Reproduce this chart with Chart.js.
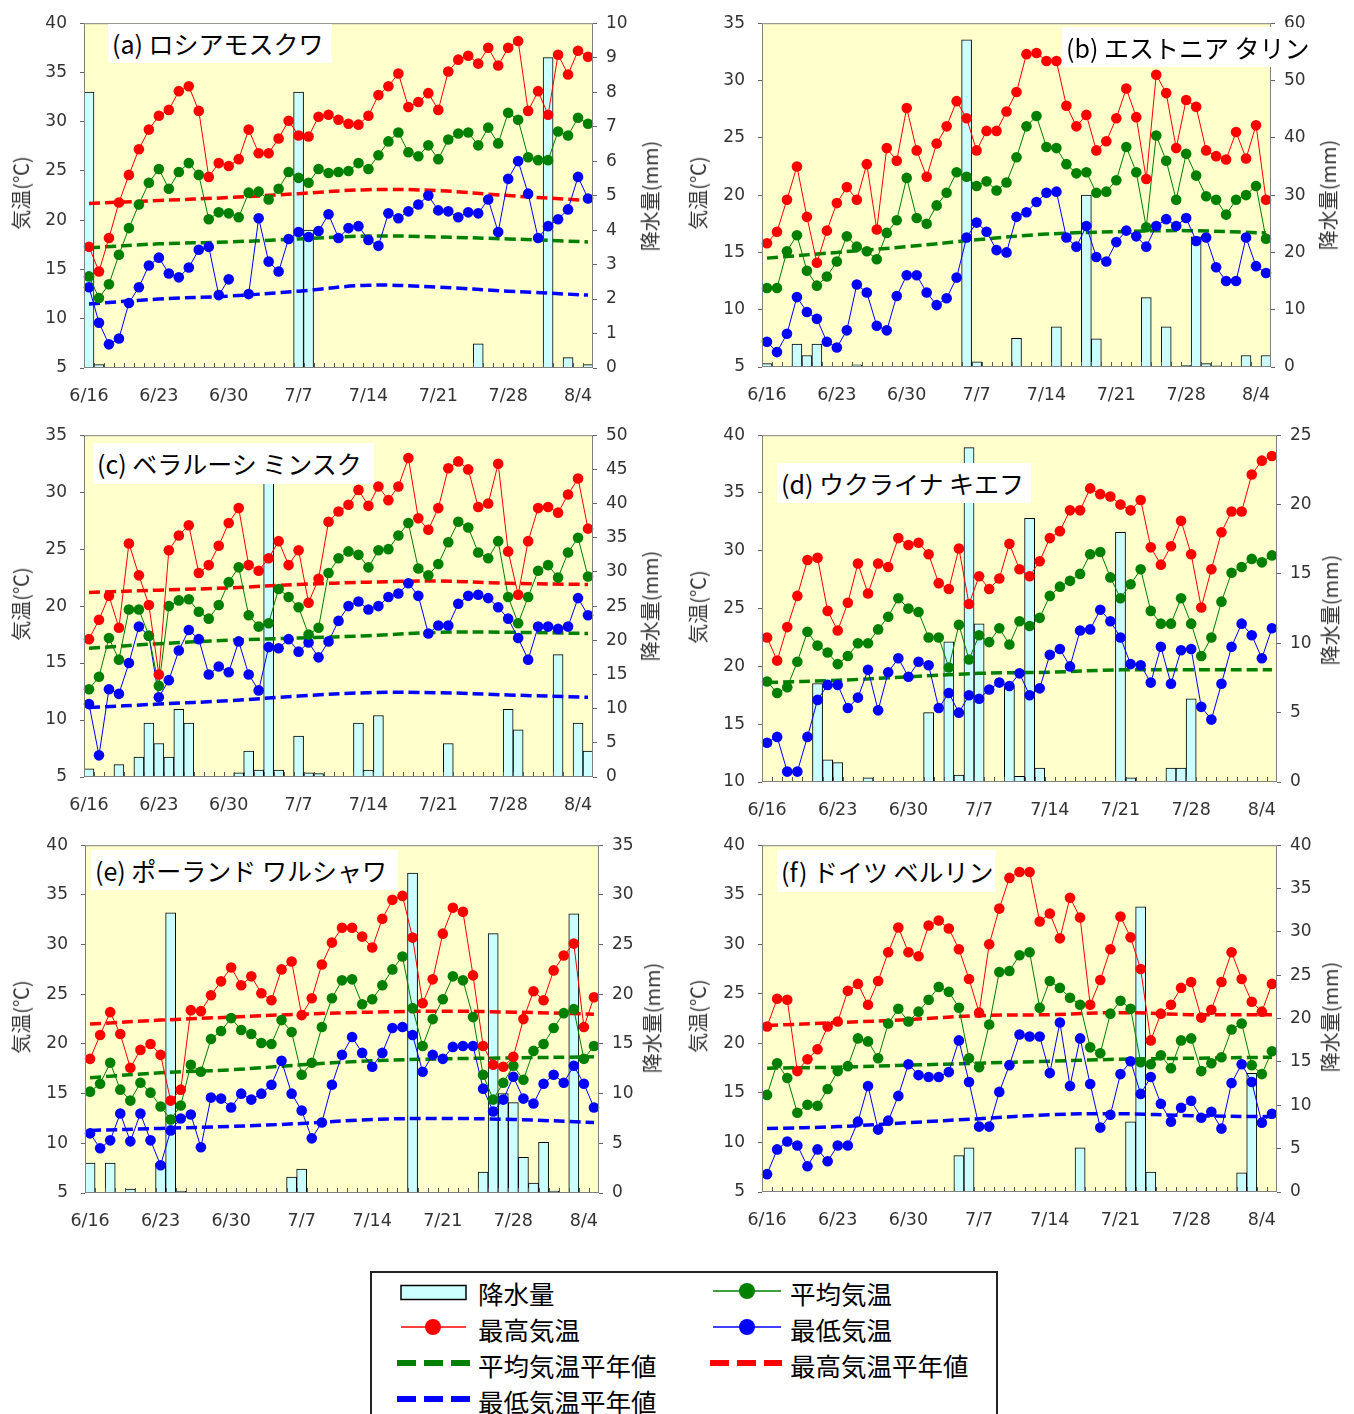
<!DOCTYPE html>
<html>
<head>
<meta charset="utf-8">
<script src="https://cdn.jsdelivr.net/npm/chart.js@4.4.0/dist/chart.umd.min.js"></script>
<style>
html,body{margin:0;padding:0;background:#fff;}
body{position:relative;width:1354px;height:1414px;overflow:hidden;font-family:"Noto Sans CJK JP",sans-serif;}
canvas{position:absolute;}
.ttl{position:absolute;background:#fff;font-size:25px;padding:0 0 0 4px;white-space:pre;color:#000;box-sizing:border-box;}
.ax{position:absolute;font-size:20px;color:#333;white-space:nowrap;transform:translate(-50%,-50%) rotate(-90deg);line-height:24px;}
.lg{position:absolute;font-size:25.5px;line-height:30px;color:#000;white-space:nowrap;}
svg{position:absolute;}
</style>
</head>
<body>
<script>
// ---------- categories & tick labels ----------
const days = ['6/16','6/17','6/18','6/19','6/20','6/21','6/22','6/23','6/24','6/25','6/26','6/27','6/28','6/29','6/30',
  '7/1','7/2','7/3','7/4','7/5','7/6','7/7','7/8','7/9','7/10','7/11','7/12','7/13','7/14','7/15','7/16','7/17','7/18','7/19','7/20',
  '7/21','7/22','7/23','7/24','7/25','7/26','7/27','7/28','7/29','7/30','7/31','8/1','8/2','8/3','8/4','8/5'];
const tickDays = ['6/16','6/23','6/30','7/7','7/14','7/21','7/28','8/4'];
const normIdx = [0,7,14,21,28,35,42,50];

// ---------- (a) Moscow ----------
const aMax = [17.3,14.8,18.2,21.8,24.6,27.2,29.2,30.6,31.2,33.1,33.6,31.1,24.4,25.8,25.5,26.2,29.2,26.8,26.8,28.3,30.1,28.6,28.5,30.5,30.7,30.2,29.8,29.7,30.6,32.7,33.6,34.9,31.5,32.0,32.9,31.2,35.1,36.3,36.7,35.9,37.5,35.7,37.5,38.2,31.1,33.1,30.7,36.8,34.8,37.2,36.6];
const aMean = [14.3,12.1,13.5,16.5,19.2,21.6,23.8,25.2,23.2,24.9,25.8,24.6,20.1,20.8,20.7,20.3,22.8,22.9,22.1,23.2,24.9,24.3,23.8,25.2,24.8,24.9,25.0,25.8,25.2,26.6,28.0,28.9,26.9,26.5,27.6,26.2,28.2,28.8,28.9,27.6,29.4,27.8,30.9,30.2,26.4,26.1,26.1,29.0,28.6,30.4,29.8];
const aMin = [13.2,9.6,7.4,8.0,11.6,13.2,15.4,16.2,14.6,14.2,15.2,17.0,17.3,12.4,14.0,null,12.5,20.2,15.8,14.8,18.1,18.8,18.3,18.9,20.6,18.2,19.2,19.4,18.0,17.4,20.7,20.2,20.9,21.6,22.5,21.0,20.9,20.3,20.8,20.7,22.1,18.8,24.2,26.0,22.7,18.2,19.4,20.1,21.1,24.4,22.2];
const aRain = [8.0,0.1,0,0,0,0,0,0,0,0, 0,0,0,0,0,0,0,0,0,0, 0,8.0,4.0,0,0,0,0,0,0,0, 0,0,0,0,0,0,0,0,0,0.7, 0,0,0,0,0,0,9.0,0,0.3,0, 0.1];
const aNormMax = [21.7,22.0,22.3,22.7,23.1,23.0,22.5,22.0];
const aNormMean = [17.2,17.6,17.8,18.1,18.4,18.3,18.1,17.8];
const aNormMin = [11.5,12.0,12.3,12.8,13.4,13.2,12.8,12.4];

// ---------- (b) Tallinn ----------
const bMax = [15.8,16.8,19.6,22.5,18.1,14.1,16.9,19.3,20.7,19.6,22.7,17.0,24.1,23.0,27.6,23.9,21.6,24.5,26.0,28.2,26.7,23.9,25.6,25.6,27.3,29.0,32.3,32.4,31.7,31.7,27.8,26.0,27.0,23.9,24.7,26.7,29.3,26.8,21.4,30.5,28.9,24.1,28.3,27.7,23.9,23.4,23.1,25.5,23.2,26.1,19.6];
const bMean = [11.9,11.9,15.1,16.5,13.4,12.1,12.9,14.2,16.4,15.5,15.1,14.4,16.7,17.8,21.5,18.0,17.5,19.1,20.2,22.0,21.6,20.8,21.2,20.4,21.1,23.3,26.0,26.9,24.2,24.1,22.7,21.9,22.0,20.2,20.3,21.3,24.2,22.0,17.2,25.2,23.0,19.6,23.6,21.7,19.9,19.6,18.3,19.6,20.0,20.8,16.2];
const bMin = [7.2,6.3,7.9,11.1,9.8,9.2,7.2,6.7,8.2,12.2,11.5,8.6,8.2,11.2,13.0,13.0,11.5,10.4,11.0,12.8,16.3,17.6,16.8,15.2,15.0,18.1,18.5,19.4,20.2,20.3,16.3,15.5,17.3,14.6,14.2,15.9,16.9,16.4,15.5,17.3,17.9,17.3,18.0,16.0,16.3,13.7,12.5,12.5,16.3,13.8,13.2];
const bRain = [0.6,0,0,4.0,2.0,4.0,0,0,0,0.4, 0,0,0,0,0,0,0,0,0,0, 57.1,0.9,0,0,0,5.0,0,0,0,7.0, 0,0,30.0,4.9,0,0,0,0,12.1,0, 7.0,0,0.3,22.7,0.6,0.2,0,0,2.0,0, 2.0];
const bNormMean = [14.5,15.0,15.5,16.1,16.6,16.8,16.9,16.7];

// ---------- (c) Minsk ----------
const cMax = [17.1,18.8,20.9,18.1,25.5,22.7,20.1,14.0,24.9,26.2,27.1,22.9,23.6,25.3,27.3,28.6,23.6,23.1,24.2,25.7,23.6,24.9,20.3,22.4,27.4,28.3,28.9,30.2,28.8,30.5,29.3,30.5,33.0,27.7,26.7,28.6,32.1,32.7,32.0,28.7,29.0,32.5,24.8,21.0,25.7,28.6,28.7,28.2,29.8,31.2,26.8];
const cMean = [12.7,13.8,17.2,15.3,19.7,19.7,17.4,13.0,20.0,20.5,20.6,19.5,18.9,20.1,22.1,23.4,19.2,18.2,18.5,21.5,20.8,19.9,17.5,18.1,22.9,24.2,24.8,24.5,23.4,24.9,25.0,26.2,27.3,23.3,22.7,23.7,25.6,27.4,26.9,24.7,24.2,25.7,20.8,18.5,20.8,23.1,23.6,22.5,24.7,26.0,22.6];
const cMin = [11.4,6.9,12.7,12.3,15.0,18.2,17.4,12.0,13.5,16.1,17.9,17.1,14.0,14.7,14.2,16.9,14.0,12.6,16.4,16.3,17.1,16.0,16.8,15.5,16.9,18.7,20.0,20.4,19.7,20.0,20.8,21.1,22.0,20.9,17.6,18.3,18.3,20.2,20.9,21.0,20.7,19.9,18.9,17.2,15.3,18.2,18.2,18.0,18.2,20.7,19.2];
const cRain = [1.2,0,0,1.8,0.1,2.9,7.9,4.9,2.9,9.9, 7.9,0,0,0,0,0.6,3.8,1.0,47,1.0, 0,6.0,0.6,0.5,0,0,0,7.9,1.0,9.0, 0,0,0,0,0,0,4.9,0,0,0, 0,0,9.9,6.9,0,0.1,0,17.9,0,7.9, 3.8];
const cNormMax = [21.2,21.4,21.6,21.9,22.1,22.2,22.0,21.9];
const cNormMean = [16.3,16.7,17.0,17.2,17.4,17.7,17.7,17.6];
const cNormMin = [11.1,11.4,11.7,12.1,12.4,12.4,12.2,12.0];

// ---------- (d) Kyiv ----------
const dMax = [22.5,20.5,23.4,26.1,29.2,29.4,24.8,23.1,25.5,28.9,26.3,28.9,28.6,31.1,30.5,30.7,29.7,27.2,26.7,30.2,25.4,27.8,26.7,27.6,30.6,28.4,27.8,29.1,31.1,31.7,33.5,33.5,35.4,34.9,34.7,34.0,33.5,34.4,30.3,28.8,30.4,32.6,29.7,25.1,28.4,31.6,33.4,33.4,36.6,37.8,38.2];
const dMean = [18.7,17.7,18.2,20.4,23.0,21.8,21.2,20.2,20.9,22.0,22.0,23.2,24.3,25.9,25.0,24.7,22.5,22.5,19.9,23.6,20.6,22.7,22.1,23.3,21.9,23.9,23.5,24.2,26.1,26.9,27.4,28.0,29.7,29.9,27.7,25.9,27.1,28.4,24.8,23.7,23.7,25.9,23.7,20.9,22.5,25.6,28.1,28.6,29.3,29.0,29.6];
const dMin = [13.4,13.9,10.9,10.9,13.9,17.1,18.4,18.4,16.4,17.3,19.7,16.2,19.5,20.7,19.1,20.4,20.1,16.4,17.7,16.0,17.5,17.2,18.0,18.6,18.3,19.4,17.5,18.1,21.0,21.5,20.0,23.1,23.2,24.9,23.9,22.5,20.2,20.1,18.6,21.7,18.5,21.4,21.5,16.5,15.4,18.5,21.7,23.7,22.7,20.7,23.3];
const dRain = [0,0,0,0,0,7.1,1.6,1.4,0,0, 0.3,0,0,0,0,0,5.0,0,10.1,0.5, 24.1,11.4,0,0,6.9,0.4,19.0,1.0,0,0, 0,0,0,0,0,18.0,0.3,0,0,0, 1.0,1.0,6.0,0,0,0,0,0,0,0, 0];
const dNormMean = [18.6,18.8,19.1,19.4,19.5,19.7,19.7,19.7];

// ---------- (e) Warsaw ----------
const eMax = [18.5,20.9,23.2,21.0,17.6,19.4,20.0,18.9,14.3,15.4,23.4,23.3,24.9,26.3,27.7,25.9,26.8,25.1,24.4,27.5,28.3,22.9,24.6,28.0,30.2,31.7,31.7,30.8,29.7,32.6,34.5,34.9,30.7,24.1,26.5,31.1,33.7,33.3,26.9,19.8,17.9,17.7,18.7,22.5,25.3,24.4,27.4,28.9,30.1,21.7,24.7];
const eMean = [15.2,16.0,18.1,15.4,14.3,16.1,15.1,13.7,12.4,13.8,17.9,17.2,20.5,21.3,22.6,21.4,21.0,20.1,20.0,22.4,21.2,16.9,18.1,21.7,24.6,26.4,26.5,24.0,24.5,25.9,27.5,28.8,23.6,19.8,22.5,24.5,26.8,26.4,22.7,16.9,14.4,16.1,17.8,16.4,19.3,20.0,21.6,23.1,23.5,18.5,19.8];
const eMin = [11.0,9.5,10.3,13.0,10.2,13.0,10.3,7.8,11.3,12.5,12.9,9.6,14.6,14.5,13.6,15.0,14.4,15.0,15.9,18.3,15.0,13.3,10.5,12.1,15.9,18.9,20.7,19.1,17.7,19.1,21.6,21.7,20.9,17.2,18.9,18.5,19.7,19.8,19.8,15.5,13.2,14.4,16.7,14.5,14.0,16.0,16.9,16.1,17.8,16.0,13.6];
const eRain = [3.0,0,3.0,0,0.4,0,0,3.0,28.2,0.2, 0,0,0,0,0,0,0,0,0,0, 1.6,2.4,0,0,0,0,0,0,0,0, 0,0,32.2,0,0,0,0,0,0,2.1, 26.1,10.0,9.1,3.6,1.0,5.1,0.2,0,28.1,0, 0];
const eNormMax = [22.0,22.4,22.7,23.0,23.2,23.3,23.2,23.0];
const eNormMean = [16.6,17.1,17.4,17.9,18.3,18.5,18.6,18.7];
const eNormMin = [11.3,11.5,11.7,12.0,12.4,12.5,12.4,12.1];

// ---------- (f) Berlin ----------
const fMax = [21.7,24.5,24.4,17.2,18.4,19.4,21.7,22.2,25.3,26.0,23.9,26.3,29.2,31.7,29.2,28.8,31.9,32.4,31.6,29.5,26.5,23.1,30.0,33.6,36.7,37.3,37.3,32.3,33.1,30.6,34.7,32.7,23.9,26.4,29.5,32.8,30.7,27.5,20.3,23.0,23.9,25.6,26.2,22.6,23.4,26.2,29.2,26.5,24.2,23.2,26.0];
const fMean = [14.8,18.0,16.5,13.0,13.8,13.7,15.4,17.2,17.7,20.5,20.2,18.5,22.0,23.5,22.2,23.2,24.4,25.7,25.2,23.6,18.5,17.6,21.9,27.2,27.3,28.9,29.2,23.6,26.3,25.6,24.6,23.9,19.6,19.0,23.0,24.3,23.5,18.1,17.9,18.8,17.5,20.3,20.5,17.2,18.0,18.6,21.4,22.0,17.8,16.9,19.2];
const fMin = [6.8,9.3,10.1,9.7,7.6,9.3,8.1,9.7,9.7,12.1,15.7,11.3,12.2,14.7,17.9,16.8,16.6,16.6,17.1,20.3,16.1,11.6,11.6,15.1,17.8,20.9,20.7,20.7,17.0,22.1,15.7,20.5,15.9,11.5,12.8,16.9,18.2,14.9,16.6,13.9,12.1,13.5,14.2,12.5,13.1,11.4,16.0,17.9,16.1,12.0,12.9];
const fRain = [0,0,0,0,0,0,0,0,0,0, 0,0,0,0,0,0,0,0,0,4.2, 5.1,0,0,0,0,0,0,0,0,0, 0,5.1,0,0,0,0,8.1,32.9,2.3,0, 0,0,0,0,0,0,0,2.2,13.7,0, 0];
const fNormMax = [21.8,22.1,22.4,22.8,22.9,23.1,22.9,22.9];
const fNormMean = [17.5,17.6,17.8,18.0,18.2,18.4,18.5,18.6];
const fNormMin = [11.4,11.6,12.0,12.4,12.8,12.9,12.7,12.6];

// ---------- axis ranges [min,max,step] ----------
const tempAxes = {a:[5,40,5], b:[5,35,5], c:[5,35,5], d:[10,40,5], e:[5,40,5], f:[5,40,5]};
const rainAxes = {a:[0,10,1], b:[0,60,10], c:[0,50,5], d:[0,25,5], e:[0,35,5], f:[0,40,5]};
const titles = {a:'(a) ロシアモスクワ', b:'(b) エストニア タリン', c:'(c) ベラルーシ ミンスク', d:'(d) ウクライナ キエフ', e:'(e) ポーランド ワルシャワ', f:'(f) ドイツ ベルリン'};

// ---------- layout (positions only) ----------
const layout = [
  {k:'a', max:aMax, mean:aMean, min:aMin, rain:aRain, nMax:aNormMax, nMean:aNormMean, nMin:aNormMin,
   box:[0,0,677,412], plot:[84,593,18,368], lab:[108,24,224,39], lt:[21,193], rt:[650,196]},
  {k:'b', max:bMax, mean:bMean, min:bMin, rain:bRain, nMax:null, nMean:bNormMean, nMin:null,
   box:[677,0,677,412], plot:[762,1271,18,367], lab:[1062,27,238,40], lt:[698,193], rt:[1328,195]},
  {k:'c', max:cMax, mean:cMean, min:cMin, rain:cRain, nMax:cNormMax, nMean:cNormMean, nMin:cNormMin,
   box:[0,412,677,410], plot:[84,593,430,777], lab:[93,443,281,41], lt:[21,604], rt:[650,606]},
  {k:'d', max:dMax, mean:dMean, min:dMin, rain:dRain, nMax:null, nMean:dNormMean, nMin:null,
   box:[677,412,677,410], plot:[762,1277,430,782], lab:[777,463,254,40], lt:[698,607], rt:[1330,610]},
  {k:'e', max:eMax, mean:eMean, min:eMin, rain:eRain, nMax:eNormMax, nMean:eNormMean, nMin:eNormMin,
   box:[0,822,677,418], plot:[85,599,840,1193], lab:[91,850,307,40], lt:[21,1017], rt:[652,1018]},
  {k:'f', max:fMax, mean:fMean, min:fMin, rain:fRain, nMax:fNormMax, nMean:fNormMean, nMin:fNormMin,
   box:[677,822,677,418], plot:[762,1277,840,1192], lab:[777,850,219,42], lt:[698,1016], rt:[1330,1017]}
];

Chart.defaults.font.family = '"DejaVu Sans", sans-serif';

const framePlugin = {
  id: 'frame',
  beforeDraw(chart) {
    const {ctx, chartArea: a} = chart;
    ctx.save();
    ctx.fillStyle = '#FFFFCC';
    ctx.fillRect(a.left, a.top, a.right - a.left, a.bottom - a.top);
    ctx.restore();
  },
  afterDatasetsDraw(chart) {
    const {ctx, chartArea: a, scales} = chart;
    const x = scales.x;
    const n = days.length;
    const w = (x.getPixelForValue(n - 1) - x.getPixelForValue(0)) / (n - 1);
    const x0 = x.getPixelForValue(0) - w / 2;
    ctx.save();
    ctx.strokeStyle = '#555';
    ctx.lineWidth = 1;
    ctx.beginPath();
    for (let i = 1; i < n; i++) {
      const px = Math.round(x0 + i * w) + 0.5;
      ctx.moveTo(px, a.bottom);
      ctx.lineTo(px, a.bottom - 5);
    }
    ctx.stroke();
    ctx.strokeStyle = '#808080';
    ctx.strokeRect(a.left + 0.5, a.top + 0.5, a.right - a.left - 1, a.bottom - a.top - 1);
    ctx.restore();
  }
};

function expand(vals) {
  const arr = days.map(() => null);
  normIdx.forEach((k, j) => { arr[k] = vals[j]; });
  return arr;
}
function normDs(vals, color, order) {
  return {type:'line', data: expand(vals), yAxisID:'y', borderColor:color, borderWidth:3.5,
    borderDash:[11,5], pointRadius:0, spanGaps:true, tension:0.4, fill:false, order:order};
}
function obsDs(vals, color, order) {
  return {type:'line', data: vals, yAxisID:'y', borderColor:color, borderWidth:1,
    pointRadius:5.3, pointBackgroundColor:color, pointBorderColor:color, pointBorderWidth:0,
    spanGaps:false, tension:0, fill:false, order:order};
}

layout.forEach(p => {
  const cv = document.createElement('canvas');
  cv.width = p.box[2]; cv.height = p.box[3];
  cv.style.left = p.box[0] + 'px'; cv.style.top = p.box[1] + 'px';
  document.body.appendChild(cv);
  const want = {l: p.plot[0] - p.box[0], r: p.plot[1] - p.box[0], t: p.plot[2] - p.box[1], b: p.plot[3] - p.box[1]};
  const g = {leftW: want.l, rightW: p.box[2] - want.r, padTop: want.t, botH: p.box[3] - want.b};
  const tA = tempAxes[p.k], rA = rainAxes[p.k];

  const ds = [{type:'bar', data: p.rain.map(v => v > 0 ? v : null), yAxisID:'y2',
    backgroundColor:'#CCFFFF', borderColor:'#000', borderWidth:1,
    barPercentage:1, categoryPercentage:1, order:10}];
  if (p.nMean) ds.push(normDs(p.nMean, '#008000', 7));
  if (p.nMax) ds.push(normDs(p.nMax, '#FF0000', 6));
  if (p.nMin) ds.push(normDs(p.nMin, '#0000FF', 5));
  ds.push(obsDs(p.min, '#0000FF', 3));
  ds.push(obsDs(p.mean, '#008000', 2));
  ds.push(obsDs(p.max, '#FF0000', 1));

  const tickFont = {size:17};
  const chart = new Chart(cv, {
    type: 'bar',
    data: {labels: days, datasets: ds},
    plugins: [framePlugin],
    options: {
      responsive:false, animation:false, events:[],
      layout:{autoPadding:false, padding:{top:g.padTop, left:0, right:0, bottom:0}},
      plugins:{legend:{display:false}, tooltip:{enabled:false}},
      scales:{
        x:{type:'category', offset:true, grid:{display:false, drawTicks:false}, border:{display:false},
           ticks:{autoSkip:false, maxRotation:0, minRotation:0, padding:18, color:'#333', font:{size:17.5},
             callback:(v, i) => tickDays.includes(days[i]) ? days[i] : ''},
           afterFit:(s) => { s.height = g.botH; }},
        y:{position:'left', min:tA[0], max:tA[1],
           ticks:{stepSize:tA[2], padding:13, color:'#333', font:tickFont},
           grid:{drawOnChartArea:false, drawTicks:true, tickLength:4, color:'#666'}, border:{display:false},
           afterFit:(s) => { s.width = g.leftW; }},
        y2:{position:'right', min:rA[0], max:rA[1],
           ticks:{stepSize:rA[2], padding:9, color:'#333', font:tickFont},
           grid:{drawOnChartArea:false, drawTicks:true, tickLength:4, color:'#666'}, border:{display:false},
           afterFit:(s) => { s.width = g.rightW; }}
      }
    }
  });
  // nudge the layout so the plot area lands exactly where the reference has it
  for (let it = 0; it < 4; it++) {
    const ca = chart.chartArea;
    const dT = want.t - ca.top, dB = ca.bottom - want.b, dL = want.l - ca.left, dR = ca.right - want.r;
    if (Math.abs(dT) < 0.3 && Math.abs(dB) < 0.3 && Math.abs(dL) < 0.3 && Math.abs(dR) < 0.3) break;
    g.padTop += dT; g.botH += dB; g.leftW += dL; g.rightW += dR;
    chart.options.layout.padding.top = g.padTop;
    chart.update('none');
  }

  const t = document.createElement('div');
  t.className = 'ttl';
  t.textContent = titles[p.k];
  t.style.left = p.lab[0] + 'px'; t.style.top = p.lab[1] + 'px';
  t.style.width = p.lab[2] + 'px'; t.style.height = p.lab[3] + 'px';
  t.style.lineHeight = p.lab[3] + 'px';
  document.body.appendChild(t);

  const l = document.createElement('div');
  l.className = 'ax'; l.textContent = '気温(℃)';
  l.style.left = p.lt[0] + 'px'; l.style.top = p.lt[1] + 'px';
  document.body.appendChild(l);
  const r = document.createElement('div');
  r.className = 'ax'; r.textContent = '降水量(mm)';
  r.style.left = p.rt[0] + 'px'; r.style.top = p.rt[1] + 'px';
  document.body.appendChild(r);
});

// ---------- legend ----------
const legendItems = [
  {txt:'降水量', x:478, y:1293}, {txt:'平均気温', x:790, y:1293},
  {txt:'最高気温', x:478, y:1329}, {txt:'最低気温', x:790, y:1329},
  {txt:'平均気温平年値', x:478, y:1365}, {txt:'最高気温平年値', x:790, y:1365},
  {txt:'最低気温平年値', x:478, y:1401}
];
const svgNS = 'http://www.w3.org/2000/svg';
const svg = document.createElementNS(svgNS, 'svg');
svg.setAttribute('width', '632'); svg.setAttribute('height', '143');
svg.style.left = '368px'; svg.style.top = '1271px';
svg.innerHTML =
  '<rect x="3" y="1" width="626" height="170" fill="#fff" stroke="#222" stroke-width="2"/>' +
  '<rect x="33" y="14.5" width="65" height="14" fill="#CCFFFF" stroke="#000" stroke-width="1.5"/>' +
  '<line x1="345" y1="20" x2="413" y2="20" stroke="#008000" stroke-width="1.5"/><circle cx="379" cy="20" r="8" fill="#008000"/>' +
  '<line x1="33" y1="56" x2="98" y2="56" stroke="#FF0000" stroke-width="1.5"/><circle cx="65" cy="56" r="8" fill="#FF0000"/>' +
  '<line x1="345" y1="56" x2="413" y2="56" stroke="#0000FF" stroke-width="1.5"/><circle cx="379" cy="56" r="8" fill="#0000FF"/>' +
  '<line x1="29" y1="92" x2="102" y2="92" stroke="#008000" stroke-width="6" stroke-dasharray="19 8"/>' +
  '<line x1="342" y1="92" x2="414" y2="92" stroke="#FF0000" stroke-width="6" stroke-dasharray="19 8"/>' +
  '<line x1="29" y1="128" x2="102" y2="128" stroke="#0000FF" stroke-width="6" stroke-dasharray="19 8"/>';
document.body.appendChild(svg);
legendItems.forEach(it => {
  const d = document.createElement('div');
  d.className = 'lg'; d.textContent = it.txt;
  d.style.left = it.x + 'px'; d.style.top = (it.y - 15) + 'px';
  document.body.appendChild(d);
});
</script>
</body>
</html>
